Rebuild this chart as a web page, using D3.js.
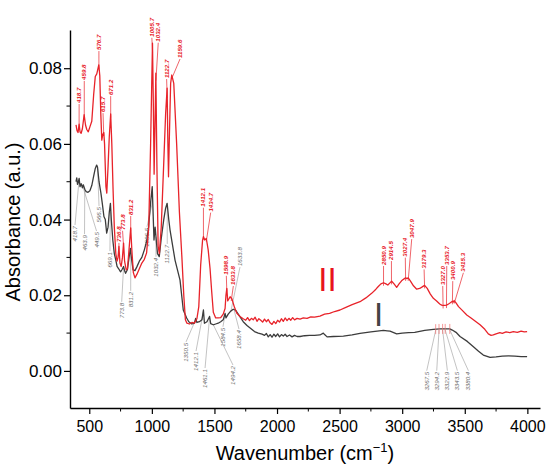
<!DOCTYPE html>
<html><head><meta charset="utf-8">
<script src="https://cdn.jsdelivr.net/npm/d3@7"></script>
<style>body{margin:0;background:#fff}svg{display:block}</style>
</head><body>
<svg id="c" width="550" height="475"></svg>
<script>
// ---- Data ----
const wnII = [394,402,410,419,426,435,445,459,470,480,492,505,520,535,548,560,576,584,592,600,608,616,622,633,640,650,660,671,680,690,700,712,722,730,737,745,755,765,774,782,795,805,815,831,840,852,865,880,900,920,940,958,975,990,1005,1012,1018,1025,1032,1040,1050,1060,1075,1095,1110,1122,1127,1133,1140,1150,1159,1175,1198,1220,1240,1255,1268,1280,1300,1320,1340,1360,1375,1390,1405,1412,1422,1428,1435,1450,1465,1478,1491,1510,1530,1550,1570,1585,1592,1599,1606,1615,1625,1640,1660,1680,1704,1730,1750,1765,1780,1795,1810,1825,1840,1855,1870,1885,1900,1915,1930,1945,1960,1975,1990,2005,2020,2035,2050,2065,2080,2095,2110,2125,2140,2160,2184,2210,2240,2270,2300,2343,2380,2420,2460,2503,2550,2600,2663,2710,2756,2790,2809,2830,2851,2870,2885,2900,2916,2935,2956,2975,2995,3010,3027,3037,3048,3065,3090,3116,3140,3160,3179,3200,3225,3249,3275,3300,3315,3327,3340,3354,3370,3385,3401,3408,3415,3430,3450,3480,3516,3550,3590,3622,3660,3688,3710,3728,3750,3780,3800,3830,3860,3888,3920,3950,3975,3998];
const absII = [0.0650,0.0635,0.0630,0.0652,0.0632,0.0628,0.0640,0.0677,0.0650,0.0638,0.0632,0.0645,0.0660,0.0730,0.0778,0.0785,0.0809,0.0780,0.0680,0.0610,0.0625,0.0630,0.0600,0.0487,0.0470,0.0540,0.0620,0.0679,0.0600,0.0480,0.0380,0.0310,0.0290,0.0300,0.0329,0.0285,0.0276,0.0300,0.0338,0.0290,0.0267,0.0270,0.0310,0.0378,0.0320,0.0260,0.0246,0.0255,0.0270,0.0285,0.0295,0.0312,0.0380,0.0600,0.0866,0.0700,0.0520,0.0650,0.0787,0.0550,0.0330,0.0310,0.0380,0.0550,0.0680,0.0747,0.0620,0.0513,0.0620,0.0760,0.0782,0.0760,0.0600,0.0420,0.0300,0.0200,0.0135,0.0126,0.0124,0.0128,0.0126,0.0138,0.0170,0.0280,0.0345,0.0355,0.0346,0.0348,0.0350,0.0320,0.0270,0.0210,0.0155,0.0140,0.0140,0.0141,0.0150,0.0165,0.0200,0.0218,0.0185,0.0190,0.0196,0.0190,0.0168,0.0152,0.0144,0.0138,0.0134,0.0141,0.0133,0.0139,0.0135,0.0142,0.0131,0.0138,0.0134,0.0129,0.0137,0.0130,0.0136,0.0127,0.0123,0.0131,0.0125,0.0134,0.0129,0.0138,0.0131,0.0140,0.0133,0.0139,0.0134,0.0141,0.0135,0.0139,0.0137,0.0140,0.0139,0.0143,0.0142,0.0145,0.0150,0.0152,0.0157,0.0161,0.0168,0.0175,0.0183,0.0193,0.0205,0.0216,0.0223,0.0230,0.0233,0.0230,0.0227,0.0232,0.0237,0.0230,0.0221,0.0230,0.0238,0.0242,0.0246,0.0244,0.0246,0.0238,0.0225,0.0216,0.0218,0.0222,0.0226,0.0218,0.0203,0.0192,0.0185,0.0177,0.0174,0.0173,0.0173,0.0174,0.0177,0.0180,0.0184,0.0182,0.0186,0.0180,0.0170,0.0160,0.0148,0.0140,0.0130,0.0122,0.0110,0.0098,0.0094,0.0095,0.0098,0.0101,0.0099,0.0103,0.0101,0.0104,0.0102,0.0105,0.0103,0.0104];

const wnI = [394,400,406,412,419,426,435,445,452,464,475,490,505,520,535,548,559,566,578,593,605,617,628,639,650,660,669,676,688,700,712,722,735,750,762,774,782,790,805,818,828,838,850,865,880,900,920,940,960,974,990,1003,1017,1026,1045,1059,1075,1095,1110,1122,1135,1145,1185,1225,1251,1278,1295,1320,1340,1350,1360,1380,1400,1412,1420,1440,1461,1470,1490,1510,1530,1550,1570,1585,1592,1610,1630,1650,1670,1690,1710,1730,1760,1790,1820,1850,1880,1900,1915,1930,1945,1960,1975,1990,2005,2020,2035,2050,2065,2080,2100,2120,2140,2160,2184,2220,2260,2300,2343,2370,2380,2400,2450,2530,2600,2663,2750,2850,2880,2903,2956,3000,3050,3100,3180,3249,3300,3380,3400,3430,3462,3520,3569,3610,3648,3702,3750,3800,3850,3900,3950,3998];
const absI = [0.0500,0.0510,0.0493,0.0498,0.0509,0.0487,0.0495,0.0484,0.0492,0.0480,0.0474,0.0472,0.0476,0.0490,0.0515,0.0535,0.0544,0.0538,0.0500,0.0470,0.0440,0.0408,0.0400,0.0364,0.0380,0.0420,0.0443,0.0400,0.0346,0.0310,0.0293,0.0276,0.0270,0.0262,0.0268,0.0276,0.0265,0.0258,0.0268,0.0300,0.0324,0.0295,0.0267,0.0265,0.0275,0.0290,0.0300,0.0320,0.0345,0.0381,0.0445,0.0487,0.0346,0.0380,0.0310,0.0302,0.0350,0.0400,0.0430,0.0443,0.0400,0.0373,0.0293,0.0240,0.0161,0.0140,0.0130,0.0124,0.0126,0.0139,0.0128,0.0130,0.0135,0.0161,0.0126,0.0130,0.0144,0.0125,0.0122,0.0124,0.0126,0.0130,0.0135,0.0152,0.0140,0.0150,0.0158,0.0163,0.0160,0.0150,0.0140,0.0130,0.0120,0.0112,0.0104,0.0100,0.0097,0.0094,0.0099,0.0090,0.0096,0.0089,0.0097,0.0091,0.0098,0.0090,0.0096,0.0092,0.0097,0.0091,0.0095,0.0090,0.0094,0.0091,0.0091,0.0093,0.0094,0.0094,0.0095,0.0100,0.0096,0.0090,0.0091,0.0092,0.0095,0.0099,0.0103,0.0107,0.0106,0.0105,0.0098,0.0100,0.0101,0.0102,0.0107,0.0110,0.0111,0.0111,0.0108,0.0102,0.0091,0.0078,0.0064,0.0052,0.0042,0.0036,0.0037,0.0039,0.0040,0.0039,0.0038,0.0038];

// Peak labels of spectrum II (red, above the curve)
const redText   = ["418.7","459.8","576.7","615.7","671.2","736.8","773.8","831.2","1005.7","1032.4","1122.7","1159.6","1412.1","1434.7","1598.9","1633.8","2850.9","2914.5","3027.4","3047.9","3179.3","3327.0","3353.7","3400.9","3415.3"];
const redPeakWn = [418.7,459.8,576.7,615.7,671.2,736.8,773.8,831.2,1005.7,1032.4,1122.7,1159.6,1412.1,1434.7,1598.9,1633.8,2850.9,2914.5,3027.4,3047.9,3179.3,3327.0,3353.7,3400.9,3415.3];
const redTextWn = [419,460,577,610,671,737,766,831,1000,1051,1118,1225,1412,1470,1595,1651,2851,2914,3025,3076,3175,3324,3356,3404,3489];
const redTextAbs= [0.0708,0.0769,0.0848,0.0684,0.0729,0.0341,0.0373,0.0412,0.0883,0.0870,0.0774,0.0827,0.0434,0.0421,0.0254,0.0227,0.0280,0.0293,0.0302,0.0351,0.0271,0.0227,0.0280,0.0240,0.0262];

// Peak labels of spectrum I (grey, mostly below the curve)
const greyText   = ["418.7","463.9","449.5","566.5","669.1","773.8","831.2","1006.5","1032.4","1122.7","1350.5","1412.1","1461.1","1584.5","1494.2","1658.4","3267.5","3294.2","3322.9","3343.5","3380.4"];
const greyPeakWn = [418.7,463.9,449.5,566.5,669.1,773.8,831.2,1006.5,1032.4,1122.7,1350.5,1412.1,1461.1,1584.5,1494.2,1658.4,3267.5,3294.2,3322.9,3343.5,3380.4];
const greyTextWn = [386,462,558,578,665,759,831,961,1033,1123,1273,1353,1425,1568,1648,1696,3196,3276,3361,3441,3529];
const greyTextAbs= [0.0383,0.0359,0.0367,0.0433,0.0314,0.0180,0.0209,0.0378,0.0299,0.0333,0.0074,0.0050,0.0005,0.0114,0.0013,0.0108,-0.0002,-0.0002,-0.0002,-0.0002,-0.0002];
// grey label above the curve
const greyUpText = ["1633.8"], greyUpPeakWn = [1633.8], greyUpTextWn = [1704], greyUpTextAbs = [0.0277];

const xTicks = [500,1000,1500,2000,2500,3000,3500,4000];
const xMinor = [750,1250,1750,2250,2750,3250,3750];
const yTicks = [0.00,0.02,0.04,0.06,0.08];
const yMinor = [0.01,0.03,0.05,0.07];

// ---- Drawing ----
const svg = d3.select("#c");
const FONT = "'Liberation Sans', Arial, sans-serif";
const RED = "#e8232a", DARK = "#3c3c3c", GREY = "#6f6f6f";
const x = d3.scaleLinear().domain([346, 4101]).range([70, 540]);
const y = d3.scaleLinear().domain([-0.0098, 0.0901]).range([408, 30]);

function interp(ws, vs, w){
  for(let i=1;i<ws.length;i++){ if(ws[i]>=w){ const t=(w-ws[i-1])/(ws[i]-ws[i-1]); return vs[i-1]+t*(vs[i]-vs[i-1]); } }
  return vs[vs.length-1];
}

const line = d3.line().x(d=>x(d[0])).y(d=>y(d[1]));
const dI = wnI.map((w,i)=>[w,absI[i]]);
const dII = wnII.map((w,i)=>[w,absII[i]]);

// labels of I (grey) below curve
const gG = svg.append("g");
greyText.forEach((t,i)=>{
  const px = x(greyPeakWn[i]), py = y(interp(wnI,absI,greyPeakWn[i]));
  const tx = x(greyTextWn[i]), ty = y(greyTextAbs[i]);
  gG.append("line").attr("x1",px).attr("y1",py+1).attr("x2",tx).attr("y2",ty-1)
    .attr("stroke","#9a9a9a").attr("stroke-width",0.6);
  gG.append("text").attr("transform",`translate(${tx+2},${ty}) rotate(-90)`)
    .attr("text-anchor","end").attr("font-family",FONT).attr("font-size",6.2)
    .attr("font-style","italic").attr("fill",GREY).text(t);
});
greyUpText.forEach((t,i)=>{
  const px = x(greyUpPeakWn[i]), py = y(interp(wnI,absI,greyUpPeakWn[i]));
  const tx = x(greyUpTextWn[i]), ty = y(greyUpTextAbs[i]);
  gG.append("line").attr("x1",px).attr("y1",py-1).attr("x2",tx).attr("y2",ty+1)
    .attr("stroke","#9a9a9a").attr("stroke-width",0.6);
  gG.append("text").attr("transform",`translate(${tx+2},${ty}) rotate(-90)`)
    .attr("text-anchor","start").attr("font-family",FONT).attr("font-size",6.2)
    .attr("font-style","italic").attr("fill",GREY).text(t);
});

// spectra
svg.append("path").datum(dI).attr("d",line).attr("fill","none").attr("stroke",DARK).attr("stroke-width",1.3).attr("stroke-linejoin","round");
svg.append("path").datum(dII).attr("d",line).attr("fill","none").attr("stroke",RED).attr("stroke-width",1.3).attr("stroke-linejoin","round");

// small red markers on curve I at the 3300 group
greyPeakWn.filter(w=>w>3000).forEach(w=>{
  const px = x(w), py = y(interp(wnI,absI,w));
  svg.append("line").attr("x1",px).attr("x2",px).attr("y1",py-5).attr("y2",py+5).attr("stroke","#f07070").attr("stroke-width",0.7);
});

// labels of II (red) above curve
const gR = svg.append("g");
redText.forEach((t,i)=>{
  const px = x(redPeakWn[i]), py = y(interp(wnII,absII,redPeakWn[i]));
  const tx = x(redTextWn[i]), ty = y(redTextAbs[i]);
  gR.append("line").attr("x1",px).attr("y1",py+3).attr("x2",tx).attr("y2",ty+1)
    .attr("stroke",RED).attr("stroke-width",0.7);
  gR.append("text").attr("transform",`translate(${tx+2},${ty}) rotate(-90)`)
    .attr("text-anchor","start").attr("font-family",FONT).attr("font-size",6.2)
    .attr("font-style","italic").attr("font-weight","bold").attr("fill",RED).text(t);
});

// series markers
svg.append("text").attr("x",x(2330)).attr("y",y(0.0211)).attr("font-family",FONT).attr("font-size",33).attr("fill","#e8141c").text("II");
svg.append("text").attr("x",x(2775)).attr("y",y(0.0119)).attr("font-family",FONT).attr("font-size",33).attr("fill","#444444").text("I");

// axes
const xa = svg.append("g").attr("transform","translate(0,408)")
  .call(d3.axisBottom(x).tickValues(xTicks).tickSize(6).tickSizeOuter(0).tickPadding(7).tickFormat(d3.format("d")));
xa.selectAll("text").attr("font-family",FONT).attr("font-size",16).attr("fill","#000");
xa.append("g").selectAll("line").data(xMinor).join("line").attr("x1",d=>x(d)).attr("x2",d=>x(d)).attr("y1",0).attr("y2",3.5).attr("stroke","#000");
const ya = svg.append("g").attr("transform","translate(70,0)")
  .call(d3.axisLeft(y).tickValues(yTicks).tickSize(6).tickSizeOuter(0).tickPadding(2).tickFormat(d3.format(".2f")));
ya.selectAll("text").attr("font-family",FONT).attr("font-size",17).attr("fill","#000");
ya.append("g").selectAll("line").data(yMinor).join("line").attr("y1",d=>y(d)).attr("y2",d=>y(d)).attr("x1",0).attr("x2",-3.5).attr("stroke","#000");
svg.selectAll(".domain").attr("stroke","#000").attr("stroke-width",1.4);
svg.selectAll(".tick line").attr("stroke-width",1.2);

// titles
svg.append("text").attr("transform","translate(20,222) rotate(-90)").attr("text-anchor","middle")
  .attr("font-family",FONT).attr("font-size",20).attr("fill","#000").text("Absorbance (a.u.)");
const xt = svg.append("text").attr("x",305).attr("y",460).attr("text-anchor","middle")
  .attr("font-family",FONT).attr("font-size",20).attr("fill","#000");
xt.append("tspan").text("Wavenumber (cm");
xt.append("tspan").attr("font-size",13).attr("dy",-8).text("\u22121");
xt.append("tspan").attr("dy",8).text(")");
</script>
</body></html>
